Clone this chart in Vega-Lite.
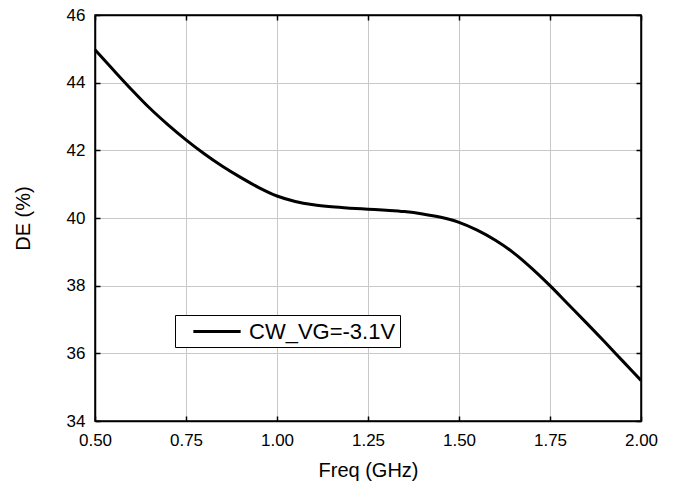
{
  "$schema": "https://vega.github.io/schema/vega-lite/v6.json",
  "width": 546,
  "height": 406,
  "autosize": "none",
  "padding": {"left": 95, "top": 15, "right": 37, "bottom": 66},
  "background": "white",
  "config": {
    "font": "Liberation Sans",
    "view": {"stroke": "black", "strokeWidth": 1.5},
    "axis": {
      "gridColor": "#c8c8c8",
      "gridWidth": 1,
      "domainColor": "black",
      "domainWidth": 1.5,
      "tickColor": "black",
      "tickWidth": 1.5,
      "tickSize": -5,
      "labelFlush": false,
      "labelFontSize": 17,
      "labelColor": "black",
      "titleFontSize": 20,
      "titleFontWeight": "normal",
      "titleColor": "black"
    }
  },
  "data": {
    "values": [
      {"f": 0.50, "de": 44.97, "s": "CW_VG=-3.1V"},
      {"f": 0.55, "de": 44.38, "s": "CW_VG=-3.1V"},
      {"f": 0.60, "de": 43.80, "s": "CW_VG=-3.1V"},
      {"f": 0.65, "de": 43.25, "s": "CW_VG=-3.1V"},
      {"f": 0.70, "de": 42.76, "s": "CW_VG=-3.1V"},
      {"f": 0.75, "de": 42.31, "s": "CW_VG=-3.1V"},
      {"f": 0.80, "de": 41.90, "s": "CW_VG=-3.1V"},
      {"f": 0.85, "de": 41.53, "s": "CW_VG=-3.1V"},
      {"f": 0.90, "de": 41.20, "s": "CW_VG=-3.1V"},
      {"f": 0.95, "de": 40.90, "s": "CW_VG=-3.1V"},
      {"f": 1.00, "de": 40.65, "s": "CW_VG=-3.1V"},
      {"f": 1.05, "de": 40.49, "s": "CW_VG=-3.1V"},
      {"f": 1.10, "de": 40.39, "s": "CW_VG=-3.1V"},
      {"f": 1.15, "de": 40.33, "s": "CW_VG=-3.1V"},
      {"f": 1.20, "de": 40.29, "s": "CW_VG=-3.1V"},
      {"f": 1.25, "de": 40.26, "s": "CW_VG=-3.1V"},
      {"f": 1.30, "de": 40.23, "s": "CW_VG=-3.1V"},
      {"f": 1.35, "de": 40.19, "s": "CW_VG=-3.1V"},
      {"f": 1.40, "de": 40.12, "s": "CW_VG=-3.1V"},
      {"f": 1.45, "de": 40.02, "s": "CW_VG=-3.1V"},
      {"f": 1.50, "de": 39.87, "s": "CW_VG=-3.1V"},
      {"f": 1.55, "de": 39.64, "s": "CW_VG=-3.1V"},
      {"f": 1.60, "de": 39.34, "s": "CW_VG=-3.1V"},
      {"f": 1.65, "de": 38.97, "s": "CW_VG=-3.1V"},
      {"f": 1.70, "de": 38.51, "s": "CW_VG=-3.1V"},
      {"f": 1.75, "de": 38.00, "s": "CW_VG=-3.1V"},
      {"f": 1.80, "de": 37.45, "s": "CW_VG=-3.1V"},
      {"f": 1.85, "de": 36.90, "s": "CW_VG=-3.1V"},
      {"f": 1.90, "de": 36.34, "s": "CW_VG=-3.1V"},
      {"f": 1.95, "de": 35.77, "s": "CW_VG=-3.1V"},
      {"f": 2.00, "de": 35.20, "s": "CW_VG=-3.1V"}
    ]
  },
  "layer": [
    {
      "mark": {"type": "line", "strokeWidth": 3, "interpolate": "monotone"},
      "encoding": {
        "x": {
          "field": "f", "type": "quantitative",
          "scale": {"domain": [0.5, 2.0], "nice": false, "zero": false},
          "axis": {"title": "Freq (GHz)", "values": [0.5, 0.75, 1.0, 1.25, 1.5, 1.75, 2.0], "format": ".2f", "labelPadding": 16, "titlePadding": 12}
        },
        "y": {
          "field": "de", "type": "quantitative",
          "scale": {"domain": [34, 46], "nice": false, "zero": false},
          "axis": {"title": "DE (%)", "values": [34, 36, 38, 40, 42, 44, 46], "labelPadding": 15, "titlePadding": 33}
        },
        "stroke": {
          "field": "s", "type": "nominal",
          "scale": {"range": ["black"]},
          "legend": {
            "title": null,
            "orient": "none",
            "legendX": 80,
            "legendY": 300,
            "strokeColor": "black",
            "fillColor": "white",
            "padding": 4,
            "symbolType": "M-2.15,0H2.15",
            "symbolSize": 484,
            "symbolStrokeWidth": 3,
            "symbolOffset": 25.5,
            "labelOffset": 19.5,
            "labelFontSize": 22,
            "labelColor": "black"
          }
        }
      }
    },
    {
      "mark": {"type": "line", "opacity": 0},
      "encoding": {
        "x": {"field": "f", "type": "quantitative", "axis": {"orient": "top", "labels": false, "title": null, "grid": false, "values": [0.5, 0.75, 1.0, 1.25, 1.5, 1.75, 2.0]}},
        "y": {"field": "de", "type": "quantitative", "axis": {"orient": "right", "labels": false, "title": null, "grid": false, "values": [34, 36, 38, 40, 42, 44, 46]}}
      }
    }
  ],
  "resolve": {"axis": {"x": "independent", "y": "independent"}}
}
